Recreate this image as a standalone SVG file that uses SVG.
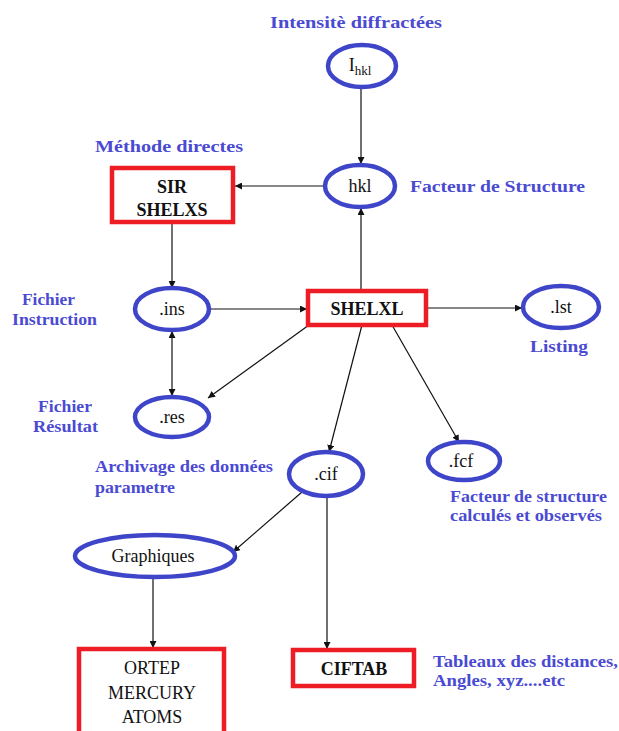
<svg xmlns="http://www.w3.org/2000/svg" width="619" height="731" viewBox="0 0 619 731">
<style>
.ell{fill:#fff;stroke:#3f45c8;stroke-width:4.5}
.box{fill:#fff;stroke:#ee1c25;stroke-width:4.5}
.nt{font-family:"Liberation Serif","Times New Roman",serif;font-size:18px;fill:#111;text-anchor:middle}
.bt{font-family:"Liberation Serif","Times New Roman",serif;font-size:18px;font-weight:bold;fill:#111;text-anchor:middle}
.lb{font-family:"Liberation Serif","Times New Roman",serif;font-size:17.5px;font-weight:bold;fill:#4a4ad2}
.c{stroke:#111;stroke-width:1.2;fill:none}
</style>
<defs>
<marker id="ah" viewBox="0 0 10 10" refX="10" refY="5" markerWidth="7" markerHeight="7" orient="auto-start-reverse" markerUnits="userSpaceOnUse">
<path d="M0,0 L10,5 L0,10 z" fill="#111"/>
</marker>
</defs>
<g id="connectors">
<line class="c" x1="361" y1="88" x2="361" y2="164" marker-end="url(#ah)"/>
<line class="c" x1="325" y1="186" x2="235" y2="186" marker-end="url(#ah)"/>
<line class="c" x1="361" y1="290" x2="361" y2="208" marker-end="url(#ah)"/>
<line class="c" x1="172" y1="223" x2="172" y2="288" marker-end="url(#ah)"/>
<line class="c" x1="210" y1="309" x2="307" y2="309" marker-end="url(#ah)"/>
<line class="c" x1="427" y1="308" x2="522" y2="308" marker-end="url(#ah)"/>
<line class="c" x1="172" y1="331" x2="172" y2="396" marker-start="url(#ah)" marker-end="url(#ah)"/>
<line class="c" x1="309" y1="325" x2="208" y2="398" marker-end="url(#ah)"/>
<line class="c" x1="362" y1="325" x2="329" y2="452" marker-end="url(#ah)"/>
<line class="c" x1="392" y1="325" x2="459" y2="442" marker-end="url(#ah)"/>
<line class="c" x1="302" y1="492" x2="233" y2="552" marker-end="url(#ah)"/>
<line class="c" x1="327" y1="497" x2="327" y2="649" marker-end="url(#ah)"/>
<line class="c" x1="153" y1="578" x2="153" y2="648" marker-end="url(#ah)"/>
</g>
<g id="ihkl"><ellipse class="ell" cx="362" cy="66" rx="34" ry="21"/><text class="nt" x="360" y="71">I<tspan font-size="13" dy="4">hkl</tspan></text></g>
<g id="hkl"><ellipse class="ell" cx="360" cy="186" rx="35" ry="21"/><text class="nt" x="360" y="192">hkl</text></g>
<g id="sir"><rect class="box" x="112" y="168" width="121" height="54"/><text class="bt" x="172" y="193">SIR</text><text class="bt" x="172" y="216">SHELXS</text></g>
<g id="ins"><ellipse class="ell" cx="172" cy="309" rx="37" ry="21"/><text class="nt" x="172" y="315">.ins</text></g>
<g id="res"><ellipse class="ell" cx="172" cy="417" rx="37" ry="20"/><text class="nt" x="172" y="423">.res</text></g>
<g id="shelxl"><rect class="box" x="308" y="291" width="118" height="34"/><text class="bt" x="367" y="315">SHELXL</text></g>
<g id="lst"><ellipse class="ell" cx="561" cy="307" rx="38" ry="21"/><text class="nt" x="561" y="313">.lst</text></g>
<g id="cif"><ellipse class="ell" cx="326" cy="474" rx="37" ry="22"/><text class="nt" x="326" y="480">.cif</text></g>
<g id="fcf"><ellipse class="ell" cx="464" cy="461" rx="36" ry="19"/><text class="nt" x="461" y="467">.fcf</text></g>
<g id="graphiques"><ellipse class="ell" cx="155" cy="556" rx="80" ry="21"/><text class="nt" x="153" y="562">Graphiques</text></g>
<g id="ciftab"><rect class="box" x="293" y="650" width="121" height="36"/><text class="bt" x="354" y="675">CIFTAB</text></g>
<g id="ortep"><rect class="box" x="79" y="649" width="145" height="90"/><text class="nt" x="152" y="674">ORTEP</text><text class="nt" x="152" y="699">MERCURY</text><text class="nt" x="152" y="723">ATOMS</text></g>
<g id="labels">
<text class="lb" x="270" y="28" textLength="172" lengthAdjust="spacingAndGlyphs">Intensitè diffractées</text>
<text class="lb" x="95" y="152" textLength="148" lengthAdjust="spacingAndGlyphs">Méthode directes</text>
<text class="lb" x="410" y="192" textLength="175" lengthAdjust="spacingAndGlyphs">Facteur de Structure</text>
<text class="lb" x="22" y="305" textLength="53" lengthAdjust="spacingAndGlyphs">Fichier</text>
<text class="lb" x="12" y="325" textLength="85" lengthAdjust="spacingAndGlyphs">Instruction</text>
<text class="lb" x="530" y="352" textLength="58" lengthAdjust="spacingAndGlyphs">Listing</text>
<text class="lb" x="38" y="412" textLength="54" lengthAdjust="spacingAndGlyphs">Fichier</text>
<text class="lb" x="33" y="432" textLength="65" lengthAdjust="spacingAndGlyphs">Résultat</text>
<text class="lb" x="95" y="472" textLength="178" lengthAdjust="spacingAndGlyphs">Archivage des données</text>
<text class="lb" x="95" y="493" textLength="80" lengthAdjust="spacingAndGlyphs">parametre</text>
<text class="lb" x="450" y="502" textLength="157" lengthAdjust="spacingAndGlyphs">Facteur de structure</text>
<text class="lb" x="450" y="521" textLength="152" lengthAdjust="spacingAndGlyphs">calculés et observés</text>
<text class="lb" x="433" y="667" textLength="185" lengthAdjust="spacingAndGlyphs">Tableaux des distances,</text>
<text class="lb" x="433" y="686" textLength="132" lengthAdjust="spacingAndGlyphs">Angles, xyz....etc</text>
</g>
</svg>
